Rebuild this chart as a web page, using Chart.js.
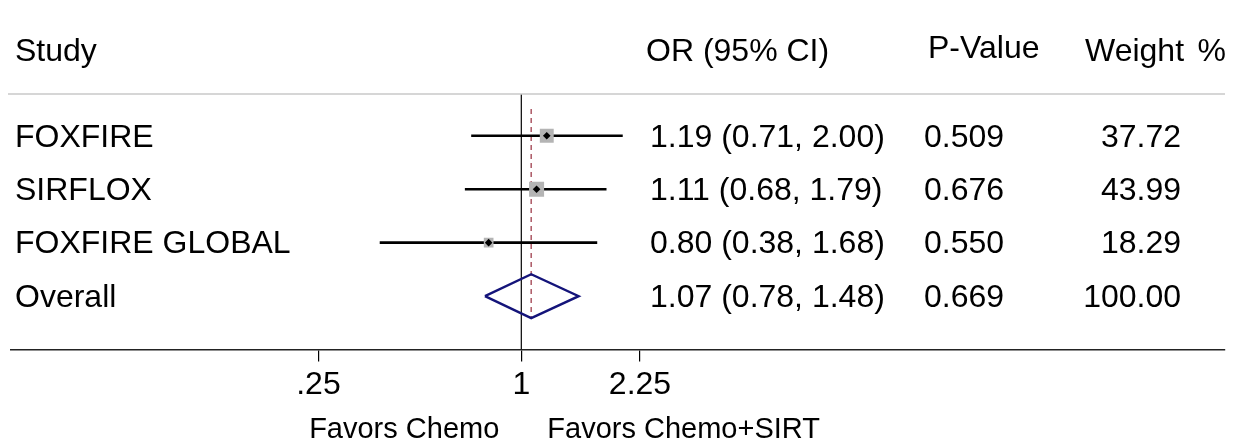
<!DOCTYPE html>
<html>
<head>
<meta charset="utf-8">
<script src="https://cdn.jsdelivr.net/npm/chart.js@4/dist/chart.umd.min.js"></script>
<style>
  body { margin: 0; background: #fff; }
  #wrap { width: 1238px; height: 448px; }
</style>
</head>
<body>
<div id="wrap"><canvas id="forest" width="1238" height="448"></canvas></div>
<script>
// Dados
const studies = ['FOXFIRE', 'SIRFLOX', 'FOXFIRE GLOBAL'];
const oddsRatios = [1.19, 1.11, 0.80];
const lowerCI = [0.71, 0.68, 0.38];
const upperCI = [2.00, 1.79, 1.68];
const pValues = ['0.509', '0.676', '0.550'];
const weights = [37.72, 43.99, 18.29];

const overallLabel = 'Overall';
const overallOR = 1.07;
const overallLower = 0.78;
const overallUpper = 1.48;
const overallP = '0.669';
const overallWeight = 100.00;

const tickValues = [0.25, 1, 2.25];
const tickLabels = ['.25', '1', '2.25'];

const FONT = '"Liberation Sans", Arial, sans-serif';
const rows = studies.map((s, i) => i + 1);
const overallRow = studies.length + 1;

const fmtCI = (or, lo, hi) => `${or.toFixed(2)} (${lo.toFixed(2)}, ${hi.toFixed(2)})`;

// Linhas dos intervalos de confiança
const ciDatasets = studies.map((s, i) => ({
    type: 'line',
    data: [{ x: lowerCI[i], y: rows[i] }, { x: upperCI[i], y: rows[i] }],
    borderColor: '#000',
    borderWidth: 2.6,
    pointRadius: 0,
    order: 5
}));

// Desenha as colunas de texto e as linhas de apoio
const textPlugin = {
    id: 'forestText',
    afterDraw(chart) {
        const ctx = chart.ctx;
        const yS = chart.scales.y;
        const xS = chart.scales.x;
        const area = chart.chartArea;

        ctx.save();
        // linha cinza superior
        ctx.strokeStyle = '#c8c8c8';
        ctx.lineWidth = 1.5;
        ctx.beginPath();
        ctx.moveTo(8, area.top);
        ctx.lineTo(1225, area.top);
        ctx.stroke();

        ctx.fillStyle = '#000';
        ctx.textBaseline = 'middle';
        ctx.font = `32px ${FONT}`;

        // cabeçalhos
        const headY = 52;
        ctx.textAlign = 'left';
        ctx.fillText('Study', 15, headY);
        ctx.fillText('OR (95% CI)', 646, headY);
        ctx.fillText('P-Value', 928, headY - 3);
        ctx.fillText('Weight', 1085, headY);
        ctx.textAlign = 'right';
        ctx.fillText('%', 1226, headY);

        const allNames = [...studies, overallLabel];
        const allCI = [...studies.map((s, i) => fmtCI(oddsRatios[i], lowerCI[i], upperCI[i])),
            fmtCI(overallOR, overallLower, overallUpper)];
        const allP = [...pValues, overallP];
        const allW = [...weights, overallWeight];

        allNames.forEach((name, i) => {
            const y = yS.getPixelForValue(i + 1) + 2;
            ctx.textAlign = 'left';
            ctx.fillText(name, 15, y);
            ctx.fillText(allCI[i], 650, y);
            ctx.fillText(allP[i], 924, y);
            ctx.textAlign = 'right';
            ctx.fillText(allW[i].toFixed(2), 1181, y);
        });

        // rótulos abaixo do eixo
        ctx.font = `29px ${FONT}`;
        const x1 = xS.getPixelForValue(1);
        ctx.textAlign = 'right';
        ctx.fillText('Favors Chemo', x1 - 22, 430);
        ctx.textAlign = 'left';
        ctx.fillText('Favors Chemo+SIRT', x1 + 26, 430);
        ctx.restore();
    }
};

new Chart(document.getElementById('forest'), {
    type: 'scatter',
    data: {
        datasets: [
            {
                // linha de nulidade (OR = 1)
                type: 'line',
                data: [{ x: 1, y: 0.22 }, { x: 1, y: 5 }],
                borderColor: '#000',
                borderWidth: 1.2,
                pointRadius: 0,
                order: 7
            },
            {
                // linha tracejada do efeito combinado
                type: 'line',
                data: [{ x: overallOR, y: 0.5 }, { x: overallOR, y: overallRow + 0.41 }],
                borderColor: '#b0606c',
                borderWidth: 1.6,
                borderDash: [5, 4],
                pointRadius: 0,
                order: 6
            },
            ...ciDatasets,
            {
                // quadrados proporcionais ao peso
                data: studies.map((s, i) => ({ x: oddsRatios[i], y: rows[i] })),
                pointStyle: 'rect',
                pointRadius: weights.map(w => 1.6 * Math.sqrt(w)),
                backgroundColor: '#b4b4b4',
                borderWidth: 0,
                order: 4
            },
            {
                data: studies.map((s, i) => ({ x: oddsRatios[i], y: rows[i] })),
                pointStyle: 'rectRot',
                pointRadius: 3.8,
                backgroundColor: '#000',
                borderWidth: 0,
                order: 3
            },
            {
                // losango do efeito combinado
                type: 'line',
                data: [
                    { x: overallLower, y: overallRow },
                    { x: overallOR, y: overallRow - 0.41 },
                    { x: overallUpper, y: overallRow },
                    { x: overallOR, y: overallRow + 0.41 },
                    { x: overallLower, y: overallRow }
                ],
                borderColor: '#14147a',
                borderWidth: 2.4,
                pointRadius: 0,
                borderJoinStyle: 'miter',
                order: 2
            }
        ]
    },
    options: {
        responsive: false,
        animation: false,
        layout: { padding: { top: 94, left: 10, right: 13, bottom: 40 } },
        plugins: { legend: { display: false }, tooltip: { enabled: false } },
        scales: {
            x: {
                type: 'logarithmic',
                min: 0.0305,
                max: 122.6,
                afterBuildTicks: (scale) => { scale.ticks = tickValues.map(v => ({ value: v })); },
                ticks: {
                    autoSkip: false,
                    maxRotation: 0,
                    padding: 4,
                    color: '#000',
                    font: { family: FONT, size: 32 },
                    callback: (value, index) => tickLabels[index]
                },
                grid: { display: true, drawOnChartArea: false, drawTicks: true, tickLength: 12, color: '#000', lineWidth: 1.2 },
                border: { display: true, color: '#222', width: 1.5 }
            },
            y: {
                type: 'linear',
                min: 0.22,
                max: 5,
                reverse: true,
                display: false
            }
        }
    },
    plugins: [textPlugin]
});
</script>
</body>
</html>
